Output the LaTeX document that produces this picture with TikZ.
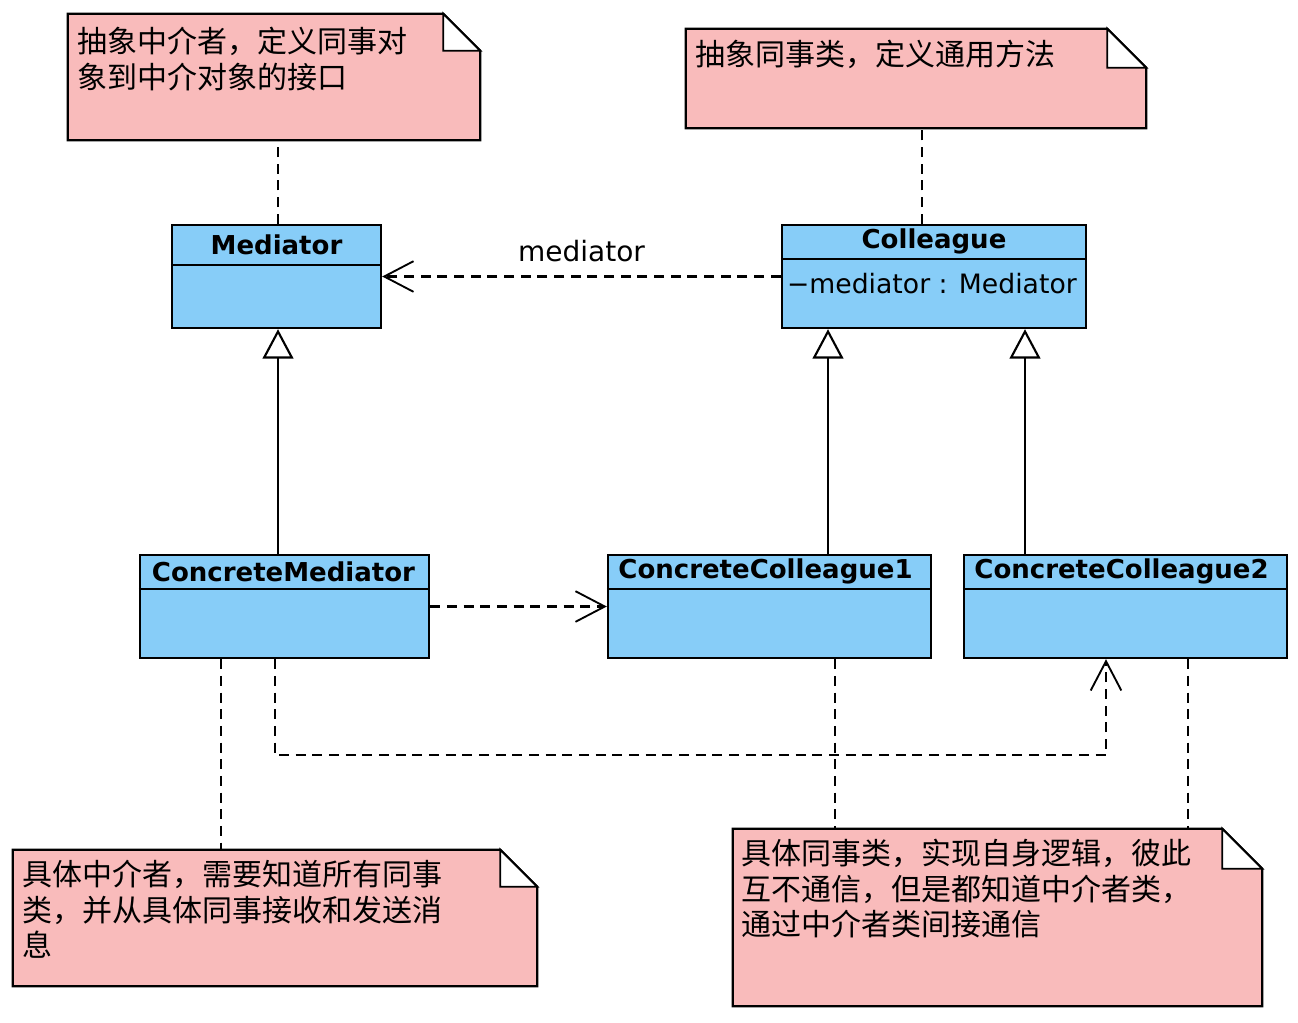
\documentclass[tikz,border=0pt]{standalone}
\usepackage{fontspec}
\setmainfont{DejaVu Sans}
\newfontfamily\cjk{Noto Sans CJK SC}
\usetikzlibrary{arrows.meta,calc}
\newdimen\px \px=0.75pt
\definecolor{clsblue}{HTML}{87CDF8}
\definecolor{notepink}{HTML}{F9BBBB}
\pgfdeclarelayer{bg}\pgfsetlayers{bg,main}
\newcommand{\notelines}[1]{\parbox[t]{480pt}{\raggedright #1}}
\begin{document}
\begin{tikzpicture}[x=0.75pt,y=-0.75pt,
 cls/.style={draw=black, line width=1.8pt, fill=clsblue, rectangle, inner sep=0},
 clsname/.style={font=\bfseries\fontsize{19.5}{22}\selectfont, inner sep=0},
 attr/.style={font=\fontsize{20}{23}\selectfont, inner sep=0, anchor=west},
 notebox/.style={inner sep=0, draw=none, rectangle},
 notetext/.style={font=\cjk\fontsize{22.5}{26.5}\selectfont, inner sep=0, anchor=base west},
 noteshape/.style={fill=notepink, draw=black, line width=1.8pt, line join=miter},
 foldshape/.style={fill=white, draw=black, line width=1.4pt, line join=miter},
 dep/.style={dash pattern=on 7.5pt off 5pt, line width=1.6pt, -{Straight Barb[length=22pt,width=23pt,line width=1.4pt]}},
 anchorline/.style={line width=1.6pt, dash pattern=on 7.5pt off 5pt},
 gen/.style={line width=1.7pt, -{Triangle[open,length=22pt,width=23pt,line width=1.6pt,fill=white]}}
]
\useasboundingbox (0,0) rectangle (1298,1022);

% ---- notes ----
\node[notebox, minimum width=412\px, minimum height=126\px] (n1) at (274,77) {};
\node[notetext] (t1) at ($(n1.north west)+(9,39)$) {\notelines{抽象中介者，定义同事对\\象到中介对象的接口}};
\node[notebox, minimum width=460\px, minimum height=99\px] (n2) at (916,78.5) {};
\node[notetext] (t2) at ($(n2.north west)+(9,37)$) {\notelines{抽象同事类，定义通用方法}};
\node[notebox, minimum width=524\px, minimum height=136\px] (n3) at (275,918) {};
\node[notetext] (t3) at ($(n3.north west)+(9,36)$) {\notelines{具体中介者，需要知道所有同事\\类，并从具体同事接收和发送消\\息}};
\node[notebox, minimum width=529\px, minimum height=177\px] (n4) at (997.5,917.5) {};
\node[notetext] (t4) at ($(n4.north west)+(8,36)$) {\notelines{具体同事类，实现自身逻辑，彼此\\互不通信，但是都知道中介者类，\\通过中介者类间接通信}};

\begin{pgfonlayer}{bg}
\foreach \n/\f in {n1/37,n2/39,n3/37,n4/40}{
  \path[noteshape] (\n.north west) -- ($(\n.north east)+(-\f,0)$) -- ($(\n.north east)+(0,\f)$) -- (\n.south east) -- (\n.south west) -- cycle;
  \path[foldshape] ($(\n.north east)+(-\f,0)$) -- ($(\n.north east)+(-\f,\f)$) -- ($(\n.north east)+(0,\f)$) -- cycle;
}
\end{pgfonlayer}

% ---- classes ----
\node[cls, minimum width=209\px, minimum height=103\px] (med) at (276.5,276.5) {};
\draw[line width=1.8pt] ($(med.north west)+(0,41)$) -- ($(med.north east)+(0,41)$);
\node[clsname] (medn) at ($(med.north)+(0,21)$) {Mediator};

\node[cls, minimum width=304\px, minimum height=103\px] (col) at (934,276.5) {};
\draw[line width=1.8pt] ($(col.north west)+(0,35)$) -- ($(col.north east)+(0,35)$);
\node[clsname] (coln) at ($(col.north)+(0,18)$) {Colleague};
\node[attr] (cola) at ($(col.north west)+(6,60)$) {−mediator : Mediator};

\node[cls, minimum width=289\px, minimum height=103\px] (cm) at (284.5,606.5) {};
\draw[line width=1.8pt] ($(cm.north west)+(0,35)$) -- ($(cm.north east)+(0,35)$);
\node[clsname] (cmn) at ($(cm.north)+(-1,18)$) {ConcreteMediator};

\node[cls, minimum width=323\px, minimum height=103\px] (cc1) at (769.5,606.5) {};
\draw[line width=1.8pt] ($(cc1.north west)+(0,35)$) -- ($(cc1.north east)+(0,35)$);
\node[clsname] (cc1n) at ($(cc1.north)+(-4,18)$) {ConcreteColleague1};

\node[cls, minimum width=323\px, minimum height=103\px] (cc2) at (1125.5,606.5) {};
\draw[line width=1.8pt] ($(cc2.north west)+(0,35)$) -- ($(cc2.north east)+(0,35)$);
\node[clsname] (cc2n) at ($(cc2.north)+(-4,18)$) {ConcreteColleague2};

% ---- note anchors ----
\draw[anchorline] ($(med.north)+(1.5,0)$) coordinate (a1) -- (a1 |- n1.south);
\draw[anchorline] ($(col.north)+(-12,0)$) coordinate (a2) -- (a2 |- n2.south);
\draw[anchorline] ($(cm.south)+(-63.5,0)$) coordinate (a3) -- (a3 |- n3.north);
\draw[anchorline] ($(cc1.south)+(65.5,0)$) coordinate (a4) -- (a4 |- n4.north);
\draw[anchorline] ($(cc2.south)+(62.5,0)$) coordinate (a5) -- (a5 |- n4.north);

% ---- relations ----
\draw[dep] (col.west) -- node[above=10pt, font=\fontsize{21}{24}\selectfont, inner sep=0] (lbl) {mediator} (med.east);
\draw[gen] ($(cm.north)+(-6.5,0)$) coordinate (g1) -- (g1 |- med.south);
\draw[gen] ($(cc1.north)+(58.5,0)$) coordinate (g2) -- (g2 |- col.south);
\draw[gen] ($(cc2.north)+(-100.5,0)$) coordinate (g3) -- (g3 |- col.south);
\draw[dep] (cm.east) -- (cc1.west);
\draw[dep] ($(cm.south)+(-9.5,0)$) -- ++(0,96) -| ($(cc2.south)+(-19.5,0)$);
\end{tikzpicture}
\end{document}
